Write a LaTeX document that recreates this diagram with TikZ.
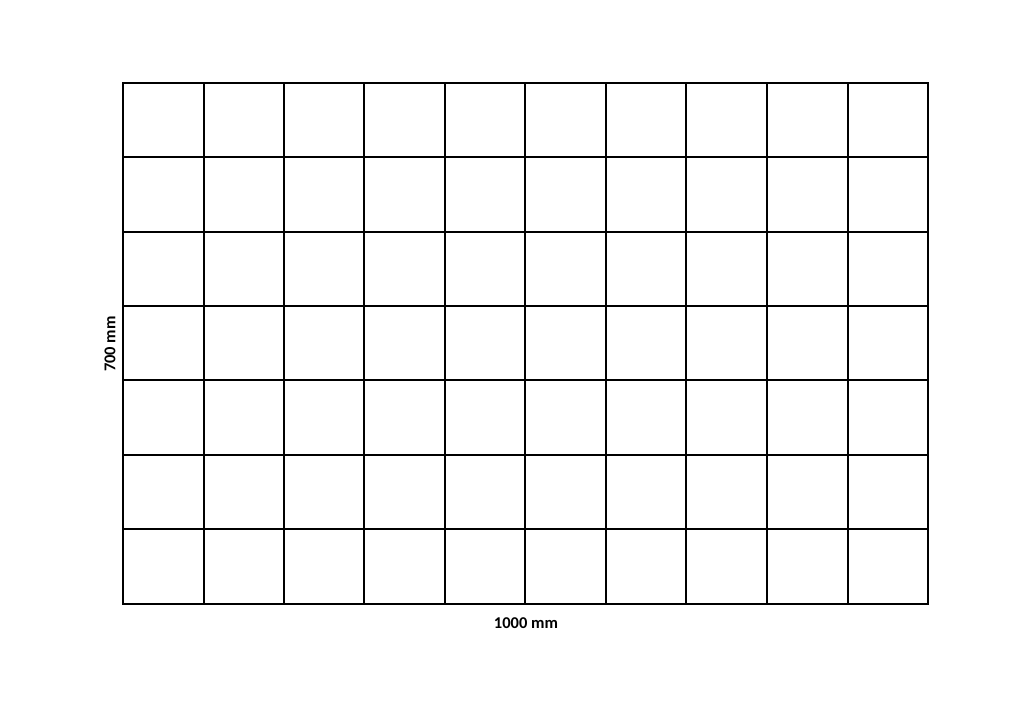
\documentclass[tikz,border=0pt]{standalone}
\usepackage{fontspec}
\setmainfont{Carlito}
\begin{document}
\begin{tikzpicture}[x=1bp,y=-1bp,
  gridline/.style={draw=black,line width=2bp},
  lbl/.style={font=\fontsize{16.5bp}{18bp}\selectfont\bfseries,inner sep=0pt}]
\useasboundingbox[fill=white] (0,0) rectangle (1024,726);
\foreach \x in {204,284,364,445,525,606,686,767,848}
  \draw[gridline] (\x,83) -- (\x,604);
\foreach \y in {157,232,306,380,455,529}
  \draw[gridline] (123,\y) -- (928,\y);
\draw[gridline] (123,83) rectangle (928,604);
\node[lbl] (w) at (526,623) {1000 mm};
\node[lbl,rotate=90] (h) at (110,344) {700 mm};
\end{tikzpicture}
\end{document}
